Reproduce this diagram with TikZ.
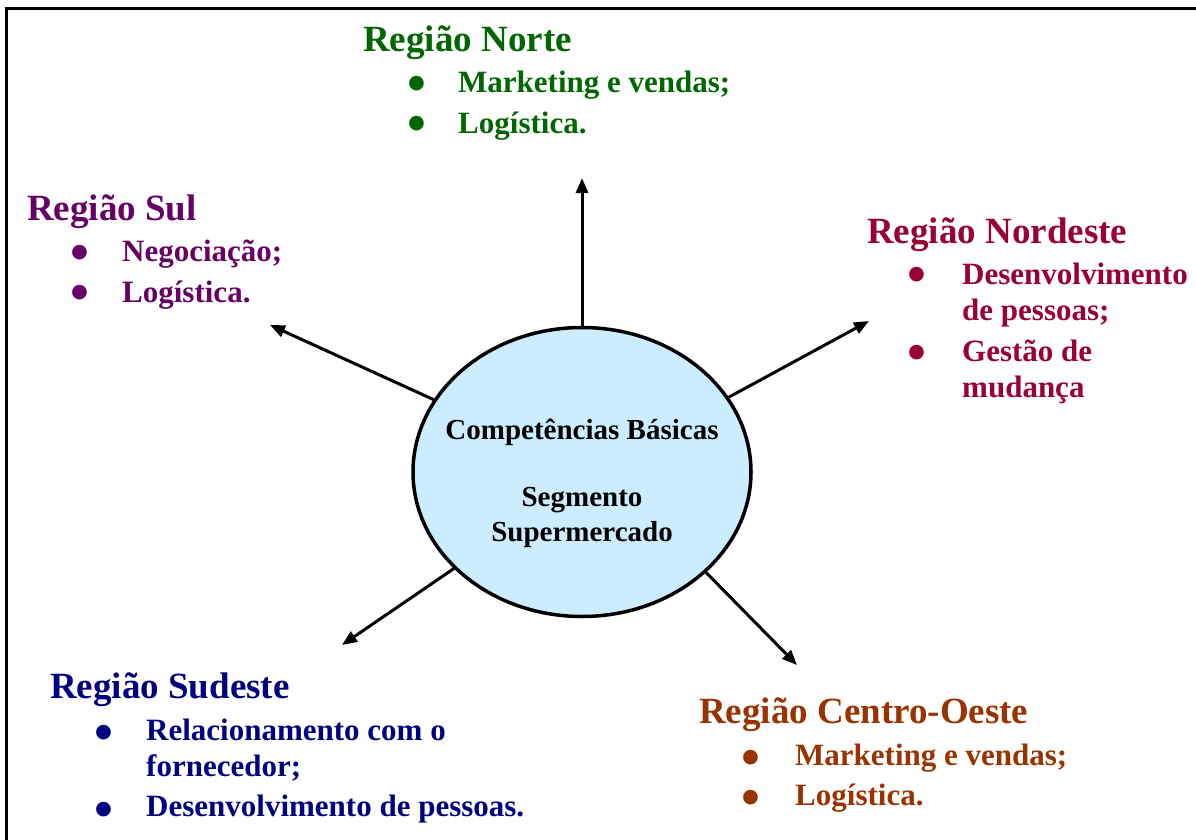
\documentclass[tikz,border=0pt]{standalone}
\usepackage{fontspec}
\setmainfont{Liberation Serif}
\usetikzlibrary{shapes.geometric,arrows.meta}
\definecolor{norte}{RGB}{0,102,0}
\definecolor{sul}{RGB}{102,0,102}
\definecolor{nordeste}{RGB}{153,0,51}
\definecolor{sudeste}{RGB}{0,0,128}
\definecolor{centro}{RGB}{153,51,0}
\definecolor{nucleo}{RGB}{204,236,255}
\begin{document}
\begin{tikzpicture}[x=1pt,y=-1pt,
  regtitle/.style={font=\fontsize{37}{44}\selectfont\bfseries, anchor=base west, inner sep=0pt},
  regitem/.style={font=\fontsize{31}{36}\selectfont\bfseries, anchor=base west, inner sep=0pt},
  regdot/.style={font=\fontsize{54}{54}\selectfont\bfseries, anchor=base, inner sep=0pt, yshift=-20pt},
  link/.style={line width=3pt, -{Triangle[length=15pt,width=12pt]}}]
\useasboundingbox (0,0) rectangle (1196,840);
% outer frame (only top and left edges fall inside the page)
\draw[line width=3pt] (6,860) -- (6,9) -- (1210,9);

% central ellipse
\node[ellipse, draw, line width=3.5pt, fill=nucleo, minimum width=338pt, minimum height=289pt, inner sep=0pt] (c) at (582,472) {};
\node[font=\fontsize{29}{35}\selectfont\bfseries, align=center, inner sep=0pt] (ctext) at (582,483)
  {Competências Básicas\\[32pt]Segmento\\Supermercado};

% arrow tips
\coordinate (tN) at (582,178);
\coordinate (tNE) at (869,321);
\coordinate (tS) at (270,325);
\coordinate (tSE) at (342,645);
\coordinate (tCO) at (797,665);
\draw[link] (c.90) -- (tN);
\draw[link] (c.27) -- (tNE);
\draw[link] (c.154) -- (tS);
\draw[link] (c.217) -- (tSE);
\draw[link] (c.-39) -- (tCO);

% Região Norte (bullet coordinates give the dot centres)
\begin{scope}[text=norte]
\node[regtitle] (nT) at (363,52) {Região Norte};
\node[regdot] (nd1) at (417,82) {•};
\node[regitem] (n1) at (458,93) {Marketing e vendas;};
\node[regdot] (nd2) at (417,122) {•};
\node[regitem] (n2) at (458,134) {Logística.};
\end{scope}

% Região Sul
\begin{scope}[text=sul]
\node[regtitle] (sT) at (27,220) {Região Sul};
\node[regdot] (sd1) at (80,250) {•};
\node[regitem] (s1) at (122,261) {Negociação;};
\node[regdot] (sd2) at (80,290) {•};
\node[regitem] (s2) at (122,302) {Logística.};
\end{scope}

% Região Nordeste
\begin{scope}[text=nordeste]
\node[regtitle] (neT) at (867,243) {Região Nordeste};
\node[regdot] (ned1) at (917,272) {•};
\node[regitem] (ne1a) at (962,284) {Desenvolvimento};
\node[regitem] (ne1b) at (962,320) {de pessoas;};
\node[regdot] (ned2) at (917,350) {•};
\node[regitem] (ne2a) at (962,361) {Gestão de};
\node[regitem] (ne2b) at (962,397) {mudança};
\end{scope}

% Região Sudeste
\begin{scope}[text=sudeste]
\node[regtitle] (seT) at (50,698) {Região Sudeste};
\node[regdot] (sed1) at (104,730) {•};
\node[regitem] (se1a) at (146,740) {Relacionamento com o};
\node[regitem] (se1b) at (146,776) {fornecedor;};
\node[regdot] (sed2) at (104,807) {•};
\node[regitem] (se2) at (146,816) {Desenvolvimento de pessoas.};
\end{scope}

% Região Centro-Oeste
\begin{scope}[text=centro]
\node[regtitle] (coT) at (699,723) {Região Centro-Oeste};
\node[regdot] (cod1) at (751,755) {•};
\node[regitem] (co1) at (795,765) {Marketing e vendas;};
\node[regdot] (cod2) at (751,795) {•};
\node[regitem] (co2) at (795,805) {Logística.};
\end{scope}
\end{tikzpicture}
\end{document}
